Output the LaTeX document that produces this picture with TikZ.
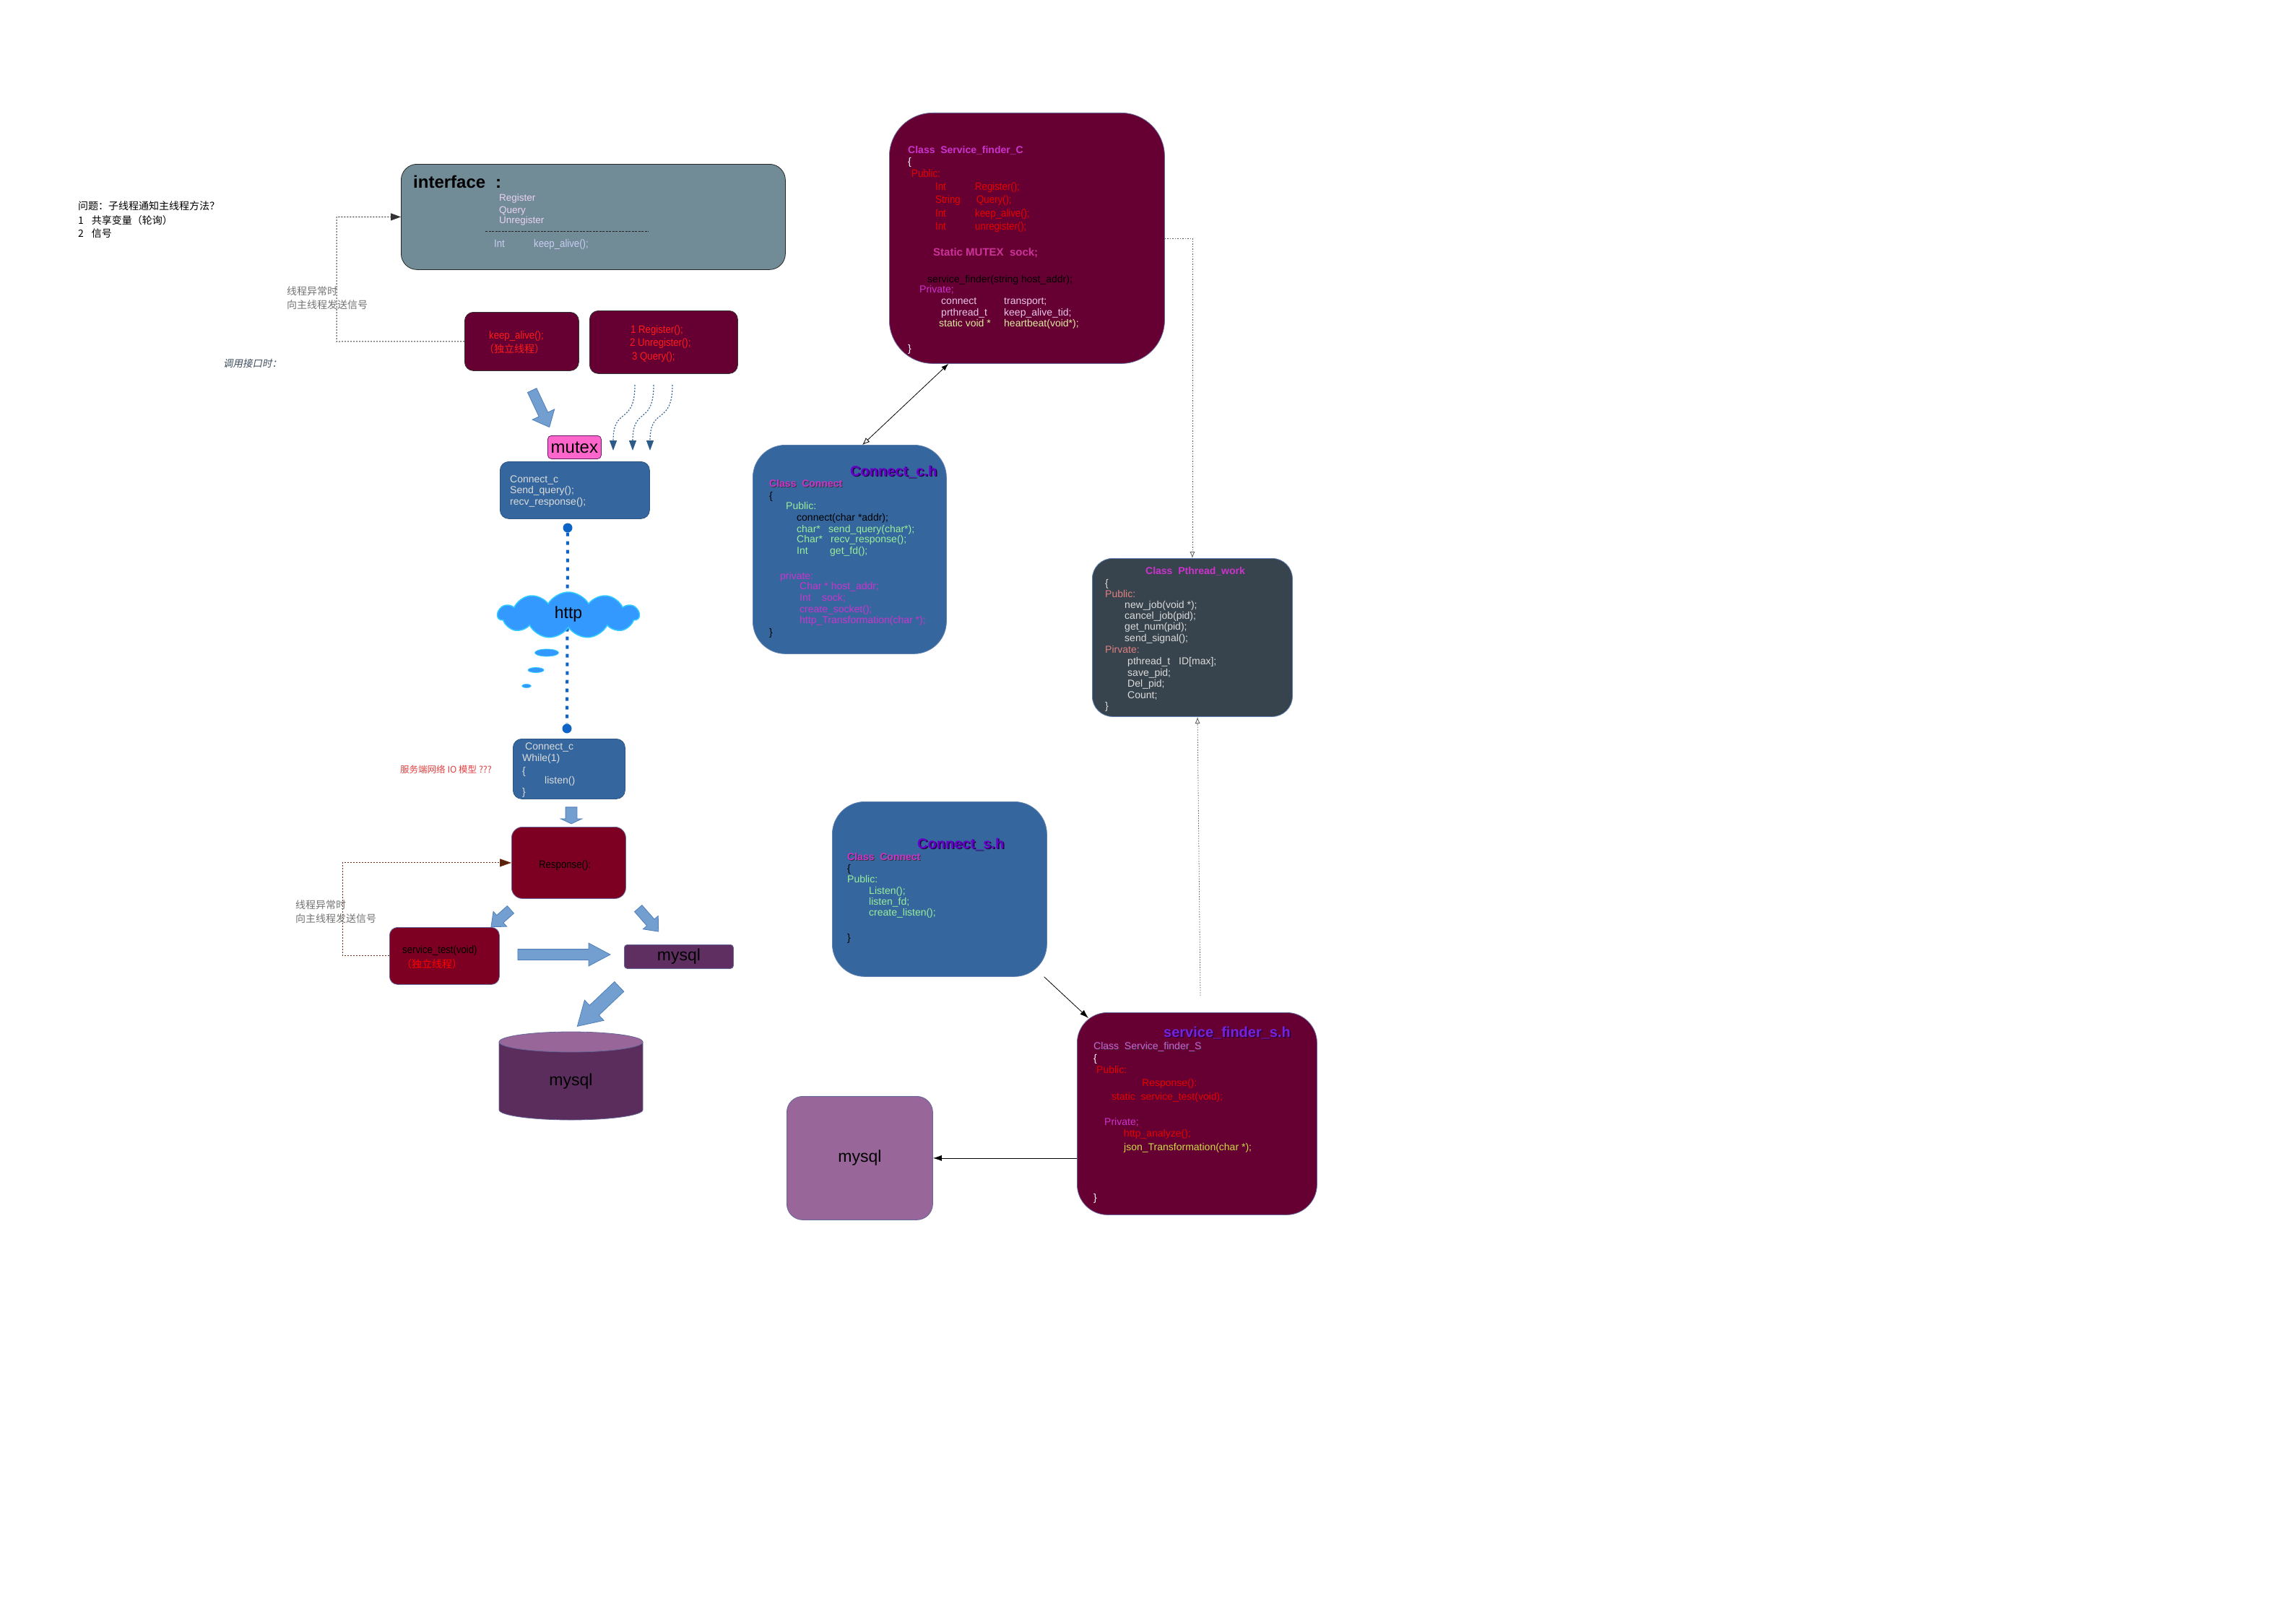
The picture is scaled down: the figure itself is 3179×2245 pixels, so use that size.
\documentclass[tikz,border=0pt]{standalone}
\usepackage{fontspec}
\setmainfont{Liberation Sans}
\newfontfamily\cjk{Noto Sans CJK SC}
\newfontfamily\cjkit[FakeSlant=0.2]{Noto Sans CJK SC}
\newfontfamily\narrow[FakeStretch=0.88]{Liberation Sans}
\usetikzlibrary{shapes.arrows,shapes.symbols,shapes.geometric,calc,arrows.meta}
\newcommand\fsz[1]{\fontsize{#1}{#1}\selectfont}
\newcommand\tline[4]{\node[#3] (#1) at (#2) {#4};}
\newcommand\blockarrow[6]{%
  \path let \p1=(#2), \p2=(#3), \n1={atan2(\y2-\y1,\x2-\x1)}, \n2={veclen(\x2-\x1,\y2-\y1)} in
    node[blockarr, rotate=\n1, minimum height=\n2, text height=#4pt, text depth=#4pt,
         single arrow head extend=#5pt, single arrow tip angle=#6] (#1) at ($(#2)!0.5!(#3)$) {};}
\definecolor{ciface}{HTML}{718C97}
\definecolor{cifr}{HTML}{EAD2F2}
\definecolor{cifk}{HTML}{C9CCF2}
\definecolor{cwine}{HTML}{660033}
\definecolor{cwine2}{HTML}{7D0022}
\definecolor{cmys1}{HTML}{5F2F62}
\definecolor{cmys2}{HTML}{996699}
\definecolor{cblue}{HTML}{35679E}
\definecolor{cblueline}{HTML}{2B5585}
\definecolor{cpw}{HTML}{38444D}
\definecolor{cpwline}{HTML}{5C7FB0}
\definecolor{boxline}{HTML}{666699}
\definecolor{arrowfill}{HTML}{729FCF}
\definecolor{arrowline}{HTML}{4F7FBA}
\definecolor{cloudfill}{HTML}{3399FF}
\definecolor{cloudline}{HTML}{33CCFF}
\definecolor{dotblue}{HTML}{0D63C6}
\definecolor{cmag}{HTML}{CC33CC}
\definecolor{cmag2}{HTML}{CC3399}
\definecolor{cred}{HTML}{E60000}
\definecolor{cbrightred}{HTML}{FF1A1A}
\definecolor{cpurp}{HTML}{6600CC}
\definecolor{cpurp2}{HTML}{7722DD}
\definecolor{cgreen}{HTML}{99EE99}
\definecolor{cpinkl}{HTML}{E8C8E8}
\definecolor{cyell}{HTML}{DDEEA0}
\definecolor{cyell2}{HTML}{CCDD44}
\definecolor{csalmon}{HTML}{E08080}
\definecolor{clight}{HTML}{DCDCDC}
\definecolor{cmutex}{HTML}{FF66CC}
\definecolor{cbrown}{HTML}{6B2A10}
\definecolor{cdcurve}{HTML}{3A6A98}
\definecolor{cdtip}{HTML}{2E5C88}
\definecolor{cslate}{HTML}{3B4B5B}
\definecolor{cnote}{HTML}{E04040}
\begin{document}
\begin{tikzpicture}[x=1pt,y=-1pt,
  box/.style={draw, inner sep=0pt, anchor=north west, line width=0.8pt},
  tb/.style={inner sep=0pt, anchor=west, text depth=0pt},
  t13/.style={tb, text height=9.7pt, font=\fsz{13.5}},
  t14/.style={tb, text height=10pt, font=\fsz{14}},
  t15/.style={tb, text height=10.8pt, font=\fsz{15}},
  n15/.style={tb, text height=10.8pt, font=\narrow\fsz{15}},
  b14/.style={tb, text height=10pt, font=\bfseries\fsz{14}},
  b20/.style={tb, text height=14.4pt, font=\bfseries\fsz{20}},
  cj/.style={tb, text height=10.5pt, font=\cjk\fsz{14}},
  blockarr/.style={single arrow, draw=arrowline, fill=arrowfill, inner sep=0pt,
    single arrow head indent=0pt, line width=0.8pt, anchor=center, minimum width=0pt},
  dcurve/.style={draw=cdcurve, dash pattern=on 2pt off 2pt, line width=1.2pt,
    -{Triangle[length=14pt,width=10pt,fill=cdtip,color=cdtip]}},
  thindot/.style={draw=black!65, dash pattern=on 1.5pt off 2pt, line width=0.8pt},
]
\useasboundingbox (0,0) rectangle (3179,2245);

% ---------- note ----------
\tline{q1}{108,285}{cj}{问题：子线程通知主线程方法？}
\tline{q2}{108,305}{cj}{1\hspace{11pt}共享变量（轮询）}
\tline{q3}{108,323}{cj}{2\hspace{11pt}信号}

% ---------- interface ----------
\node[box, fill=ciface, draw=black!85, rounded corners=22pt, minimum width=532, minimum height=146] (iface) at (555,227) {};
\tline{ifT}{572,252}{tb, text height=17.3pt, font=\bfseries\fsz{24}}{interface\hspace{14pt}:}
\tline{ifA}{691,274}{t13, text=cifr}{Register}
\tline{ifB}{691,291}{t13, text=cifr}{Query}
\tline{ifC}{691,305}{t13, text=cifr}{Unregister}
\draw[dash pattern=on 3pt off 1.5pt, line width=0.8pt, black!85] (672,320) -- (898,320);
\tline{ifD}{684,337}{n15, text=cifk}{\makebox[55pt][l]{Int}keep\_alive();}

% ---------- keep_alive / register ----------
\node[box, fill=cwine, draw=black!80, rounded corners=12pt, minimum width=158, minimum height=81] (ka) at (643,432) {};
\tline{kaA}{677,464}{n15, text=cbrightred}{keep\_alive();}
\tline{kaB}{670,483}{cj, text=cbrightred}{（独立线程）}
\node[box, fill=cwine, draw=black!80, rounded corners=12pt, minimum width=205, minimum height=87] (reg) at (816,430) {};
\tline{rgA}{873,456}{n15, text=cbrightred}{1 Register();}
\tline{rgB}{872,474}{n15, text=cbrightred}{2 Unregister();}
\tline{rgC}{875,493}{n15, text=cbrightred}{3 Query();}

\coordinate (katurn) at (466,473);
\draw[draw=black!80, dash pattern=on 2pt off 2pt, line width=1pt, -{Triangle[length=14pt,width=10pt]}] (ka.west) -- (katurn) |- (iface.west);
\tline{lbA}{397,403}{cj, text=black!55}{线程异常时}
\tline{lbB}{397,422}{cj, text=black!55}{向主线程发送信号}
\tline{lbC}{309,504}{tb, text height=9.7pt, font=\cjkit\fsz{13.5}, text=cslate}{调用接口时：}

% ---------- mutex / connect_c ----------
\coordinate (a1s) at (735,537); \coordinate (a1e) at (759,588);
\blockarrow{ar1}{a1s}{a1e}{6.5}{10}{82}
\node[box, fill=cmutex, draw=black!50!cmag, rounded corners=5pt, minimum width=74, minimum height=32, font=\fsz{24}] (mutex) at (758,603) {mutex};
\node[box, fill=cblue, draw=cblueline, rounded corners=12pt, minimum width=207, minimum height=79] (cc1) at (692,639) {};
\tline{c1A}{706,663}{t14, text=clight}{Connect\_c}
\tline{c1B}{706,678}{t14, text=clight}{Send\_query();}
\tline{c1C}{706,694}{t14, text=clight}{recv\_response();}

\coordinate (d1s) at (879,533); \coordinate (d1e) at (849,624);
\coordinate (d2s) at (905,533); \coordinate (d2e) at (876,624);
\coordinate (d3s) at (931,533); \coordinate (d3e) at (900,624);
\draw[dcurve] (d1s) .. controls (879,590) and (849,562) .. (d1e);
\draw[dcurve] (d2s) .. controls (905,590) and (876,562) .. (d2e);
\draw[dcurve] (d3s) .. controls (931,590) and (900,562) .. (d3e);

% ---------- http ----------
\node[circle, fill=dotblue, inner sep=0pt, minimum size=13pt] (dot1) at (786,731) {};
\node[circle, fill=dotblue, inner sep=0pt, minimum size=13pt] (dot2) at (785,1009) {};
\draw[dotblue, line width=4pt, dash pattern=on 5pt off 7pt] (dot1) -- (dot2);
\node[cloud, cloud ignores aspect, cloud puffs=11, cloud puff arc=120, draw=cloudline, fill=cloudfill, line width=1.5pt, inner sep=0pt,
      minimum width=196pt, minimum height=64pt, font=\fsz{23}] (cloud) at (787,852) {};
\node[inner sep=0pt, font=\fsz{23}] (httpT) at (787,851) {http};
\node[ellipse, fill=cloudfill, draw=cloudline, line width=0.8pt, inner sep=0pt, minimum width=33pt, minimum height=10pt] (bub1) at (757,904) {};
\node[ellipse, fill=cloudfill, draw=cloudline, line width=0.8pt, inner sep=0pt, minimum width=22pt, minimum height=7pt] (bub2) at (742,928) {};
\node[ellipse, fill=cloudfill, draw=cloudline, line width=0.6pt, inner sep=0pt, minimum width=13pt, minimum height=5pt] (bub3) at (729,950) {};

% ---------- server side ----------
\node[box, fill=cblue, draw=cblueline, rounded corners=12pt, minimum width=155, minimum height=83] (cc2) at (710,1023) {};
\tline{c2A}{727,1033}{t14, text=clight}{Connect\_c}
\tline{c2B}{723,1049}{t14, text=clight}{While(1)}
\tline{c2C}{723,1067}{t14, text=clight}{\{}
\tline{c2D}{754,1080}{t14, text=clight}{listen()}
\tline{c2E}{723,1096}{t14, text=clight}{\}}
\tline{io}{554,1066}{tb, text height=9pt, font=\cjk\fsz{12.5}, text=cnote}{服务端网络 IO 模型 ???}

\coordinate (a2s) at (791,1116); \coordinate (a2e) at (791,1139);
\blockarrow{ar2}{a2s}{a2e}{7.5}{7}{130}

\node[box, fill=cwine2, draw=boxline, rounded corners=15pt, minimum width=158, minimum height=99] (resp) at (708,1145) {};
\tline{rsA}{746,1197}{n15}{Response():}

\node[box, fill=cwine2, draw=boxline, rounded corners=11pt, minimum width=152, minimum height=79] (st) at (539,1284) {};
\tline{stA}{557,1315}{n15}{service\_test(void)}
\tline{stB}{556,1335}{cj, text=red}{（独立线程）}
\coordinate (stturn) at (474,1323);
\draw[draw=cbrown, dash pattern=on 2pt off 2pt, line width=1pt, -{Triangle[length=16pt,width=11pt,fill=cbrown!80!black]}] (st.west |- stturn) -- (stturn) |- (resp.west);
\tline{lbD}{409,1253}{cj, text=black!55}{线程异常时}
\tline{lbE}{409,1272}{cj, text=black!55}{向主线程发送信号}

\node[box, fill=cmys1, draw=boxline, rounded corners=4pt, minimum width=151, minimum height=33, font=\fsz{23}] (mys1) at (864,1308) {mysql};

\coordinate (a3s) at (710,1257); \coordinate (a3e) at (683,1281);
\blockarrow{ar3}{a3s}{a3e}{6.5}{7}{80}
\coordinate (a4s) at (881,1255); \coordinate (a4e) at (909,1287);
\blockarrow{ar4}{a4s}{a4e}{6.5}{7}{80}
\coordinate (a5s) at (710,1322); \coordinate (a5e) at (838,1322);
\blockarrow{ar5}{a5s}{a5e}{7}{8.5}{56}
\coordinate (a6s) at (863,1361); \coordinate (a6e) at (805,1416);
\blockarrow{ar6}{a6s}{a6e}{9}{10}{62}

% cylinder
\fill[cmys1!95!black] (691,1443) -- (691,1537) arc[start angle=180, end angle=0, x radius=99.5, y radius=14] -- (890,1443) -- cycle;
\draw[boxline, line width=0.8pt] (691,1443) -- (691,1537) arc[start angle=180, end angle=0, x radius=99.5, y radius=14] -- (890,1443);
\draw[boxline, line width=0.8pt, fill=cmys2] (790.5,1443) ellipse[x radius=99.5, y radius=14];
\node[inner sep=0pt, minimum width=199pt, minimum height=122pt, font=\fsz{23}, text height=12pt] (cyl) at (790.5,1500) {mysql};

% ---------- Service_finder_C ----------
\node[box, fill=cwine, draw=boxline, rounded corners=60pt, minimum width=381, minimum height=347] (sfc) at (1231,156) {};
\tline{f1}{1257,207}{b14, text=cmag}{Class\ \ Service\_finder\_C}
\tline{f2}{1257,223}{t14, text=white}{\{}
\tline{f3}{1262,240}{n15, text=cred}{Public:}
\tline{f4}{1295,258}{n15, text=cred}{\makebox[55pt][l]{Int}Register();}
\tline{f5}{1295,276}{n15, text=cred}{\makebox[57pt][l]{String}Query();}
\tline{f6}{1295,295}{n15, text=cred}{\makebox[55pt][l]{Int}keep\_alive();}
\tline{f7}{1295,313}{n15, text=cred}{\makebox[55pt][l]{Int}unregister();}
\tline{f8}{1292,349}{tb, text height=10.8pt, font=\bfseries\fsz{15}, text=cmag2}{Static MUTEX\ \ sock;}
\tline{f9}{1284,386}{t14, text=black}{service\_finder(string host\_addr);}
\tline{f10}{1273,400}{t14, text=cmag}{Private;}
\tline{f11}{1303,416}{t14, text=cpinkl}{\makebox[87pt][l]{connect}transport;}
\tline{f12}{1303,432}{t14, text=cpinkl}{\makebox[87pt][l]{prthread\_t}keep\_alive\_tid;}
\tline{f13}{1300,447}{t14, text=cyell}{\makebox[90pt][l]{static void *}heartbeat(void*);}
\tline{f14}{1257,482}{t14, text=white}{\}}

% ---------- Connect_c.h ----------
\node[box, fill=cblue, draw=cpwline, rounded corners=45pt, minimum width=268, minimum height=289] (cch) at (1042,616) {};
\tline{hT0}{1178.5,653.5}{b20, text=black!70!cpurp}{Connect\_c.h}
\tline{hT}{1177,652}{b20, text=cpurp}{Connect\_c.h}
\tline{h1s}{1066,670}{b14, text=black!80}{Class\ \ Connect}
\tline{h1}{1065,669}{b14, text=cmag}{Class\ \ Connect}
\tline{h2}{1065,686}{t14, text=black}{\{}
\tline{h3}{1088,700}{t14, text=cgreen}{Public:}
\tline{h4}{1103,716}{t14, text=black}{connect(char *addr);}
\tline{h5}{1103,732}{t14, text=cgreen}{\makebox[44pt][l]{char*}send\_query(char*);}
\tline{h6}{1103,746}{t14, text=cgreen}{\makebox[47pt][l]{Char*}recv\_response();}
\tline{h7}{1103,762}{t14, text=cgreen}{\makebox[46pt][l]{Int}get\_fd();}
\tline{h8}{1080,797}{t14, text=cmag}{private:}
\tline{h9}{1107,811}{t14, text=cmag}{Char * host\_addr;}
\tline{h10}{1107,827}{t14, text=cmag}{\makebox[31pt][l]{Int}sock;}
\tline{h11}{1107,843}{t14, text=cmag}{create\_socket();}
\tline{h12}{1107,858}{t14, text=cmag}{http\_Transformation(char *);}
\tline{h13}{1065,875}{t14, text=black}{\}}

\draw[black, line width=0.8pt, {Latex[length=10pt,width=7pt]}-{Latex[open,length=10pt,width=8pt]}] (sfc.238) -- (cch.83);

% ---------- Pthread_work ----------
\node[box, fill=cpw, draw=cpwline, rounded corners=28pt, minimum width=277, minimum height=219] (pw) at (1512,773) {};
\node[b14, anchor=center, text=cmag] (p1) at (1655,790) {Class\ \ Pthread\_work};
\tline{p2}{1530,807}{t14, text=clight}{\{}
\tline{p3}{1530,822}{t14, text=csalmon}{Public:}
\tline{p4}{1557,837}{t14, text=clight}{new\_job(void *);}
\tline{p5}{1557,852}{t14, text=clight}{cancel\_job(pid);}
\tline{p6}{1557,867}{t14, text=clight}{get\_num(pid);}
\tline{p7}{1557,883}{t14, text=clight}{send\_signal();}
\tline{p8}{1530,899}{t14, text=csalmon}{Pirvate:}
\tline{p9}{1561,915}{t14, text=clight}{\makebox[71pt][l]{pthread\_t}ID[max];}
\tline{p10}{1561,931}{t14, text=clight}{save\_pid;}
\tline{p11}{1561,946}{t14, text=clight}{Del\_pid;}
\tline{p12}{1561,962}{t14, text=clight}{Count;}
\tline{p13}{1530,977}{t14, text=clight}{\}}

\draw[thindot, -{Latex[open,length=9pt,width=7pt]}] (sfc.east) -| (pw.north);

% ---------- Connect_s.h ----------
\node[box, fill=cblue, draw=cpwline, rounded corners=45pt, minimum width=297, minimum height=242] (css) at (1152,1110) {};
\tline{sT0}{1271.5,1169.5}{b20, text=black!70!cpurp}{Connect\_s.h}
\tline{sT}{1270,1168}{b20, text=cpurp}{Connect\_s.h}
\tline{s1s}{1174,1187}{b14, text=black!80}{Class\ \ Connect}
\tline{s1}{1173,1186}{b14, text=cmag}{Class\ \ Connect}
\tline{s2}{1173,1202}{t14, text=black}{\{}
\tline{s3}{1173,1217}{t14, text=cgreen}{Public:}
\tline{s4}{1203,1233}{t14, text=cgreen}{Listen();}
\tline{s5}{1203,1248}{t14, text=cgreen}{listen\_fd;}
\tline{s6}{1203,1263}{t14, text=cgreen}{create\_listen();}
\tline{s7}{1173,1298}{t14, text=black}{\}}

% ---------- service_finder_s.h ----------
\node[box, fill=cwine, draw=boxline, rounded corners=42pt, minimum width=332, minimum height=280] (sfs) at (1491,1402) {};
\tline{gT0}{1612.5,1430.5}{b20, text=black!70!cpurp}{service\_finder\_s.h}
\tline{gT}{1611,1429}{b20, text=cpurp2}{service\_finder\_s.h}
\tline{g1s}{1515,1449}{t14, text=black!80}{Class\ \ Service\_finder\_S}
\tline{g1}{1514,1448}{t14, text=cmag!80!white}{Class\ \ Service\_finder\_S}
\tline{g2}{1514,1465}{t14, text=white}{\{}
\tline{g3}{1518,1481}{t14, text=cred}{Public:}
\tline{g4}{1581,1499}{t14, text=cred}{Response():}
\tline{g5}{1539,1518}{t14, text=cred}{static\ \ service\_test(void);}
\tline{g6}{1529,1553}{t14, text=cmag}{Private;}
\tline{g7}{1556,1569}{t14, text=cred}{http\_analyze();}
\tline{g8}{1556,1588}{t14, text=cyell2}{json\_Transformation(char *);}
\tline{g9}{1514,1658}{t14, text=white}{\}}

\coordinate (sfsup) at (1662,1379);
\coordinate (pwbot) at (1658,993);
\draw[thindot, -{Latex[open,length=9pt,width=7pt]}] (sfsup) -- (pwbot);

\draw[black, line width=0.8pt, -{Latex[length=12pt,width=8pt]}] (css.-40) -- ($(sfs.north west)+(16,8)$);

% ---------- mysql right ----------
\node[box, fill=cmys2, draw=boxline, rounded corners=22pt, minimum width=202, minimum height=171, font=\fsz{23}] (mys2) at (1089,1518) {mysql};
\draw[black, line width=0.8pt, -{Latex[length=12pt,width=8pt]}] (sfs.west |- mys2.east) -- (mys2.east);

\end{tikzpicture}
\end{document}
